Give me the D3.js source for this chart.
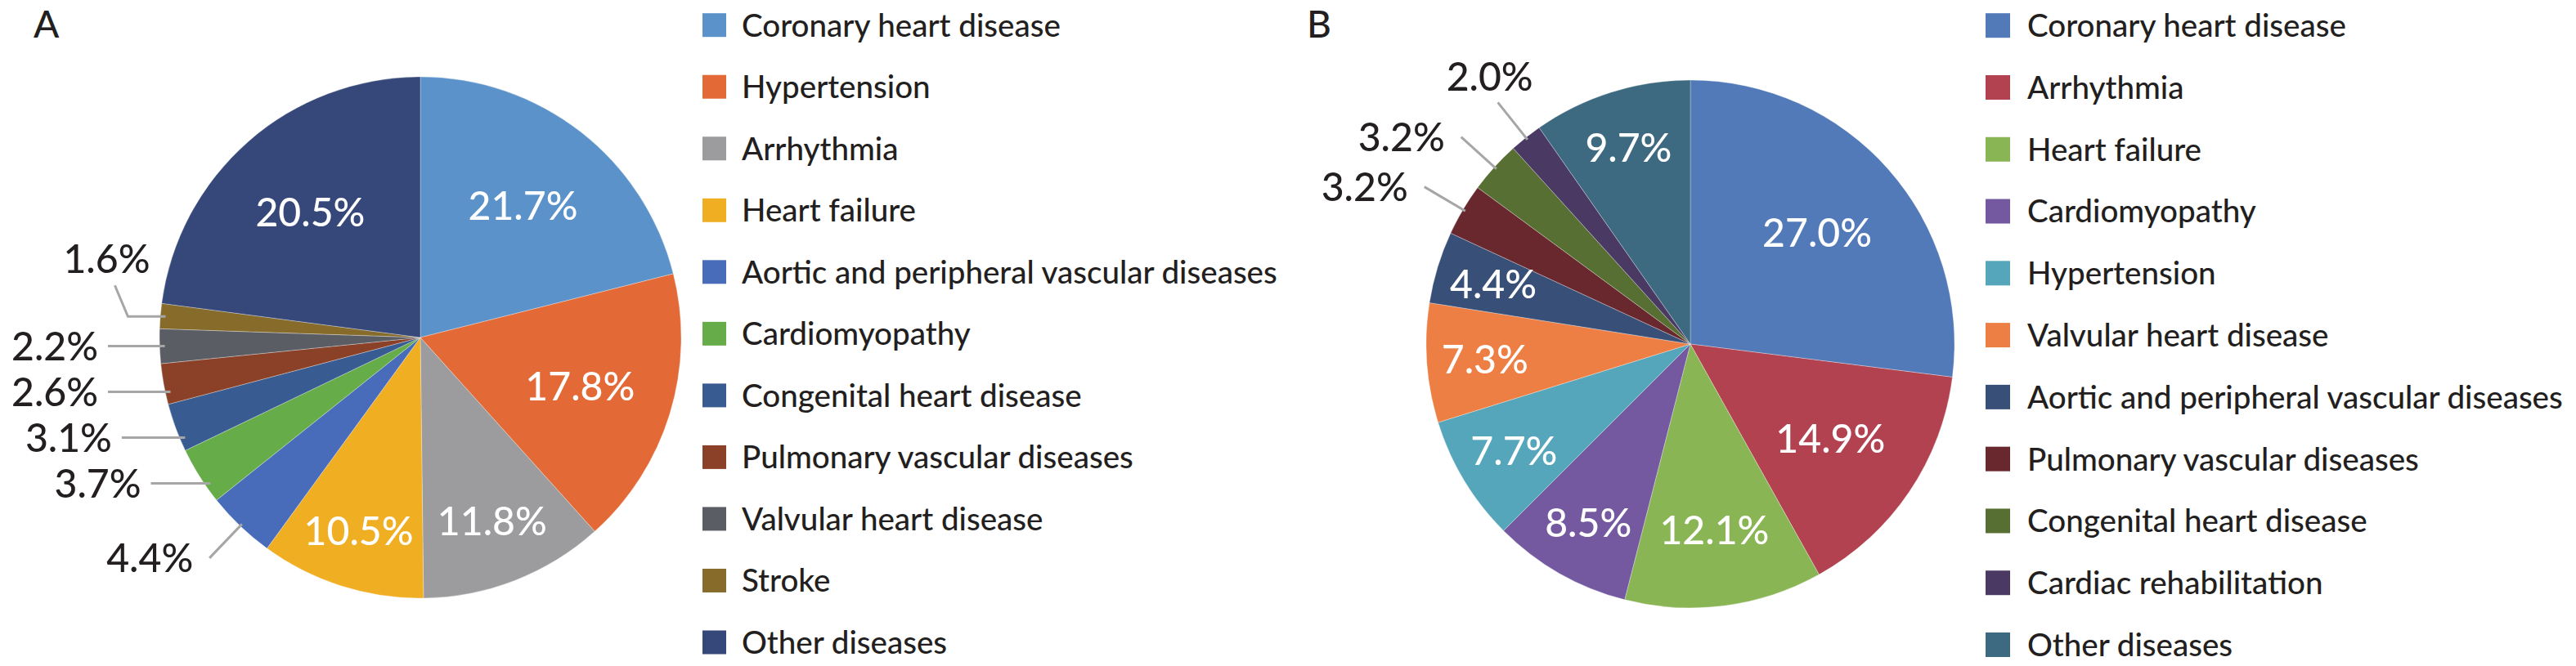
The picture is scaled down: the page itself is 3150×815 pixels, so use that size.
<!DOCTYPE html>
<html>
<head>
<meta charset="utf-8">
<script src="https://cdn.jsdelivr.net/npm/d3@7"></script>
<style>
  html, body { margin: 0; padding: 0; background: #fff; }
  svg { display: block; font-family: Lato, "Open Sans", sans-serif; font-weight: 500; }
</style>
</head>
<body>
<svg id="chart" width="3150" height="815"></svg>
<script>
// ---- panel A ----
var categoriesA = ["Coronary heart disease", "Hypertension", "Arrhythmia", "Heart failure",
  "Aortic and peripheral vascular diseases", "Cardiomyopathy", "Congenital heart disease",
  "Pulmonary vascular diseases", "Valvular heart disease", "Stroke", "Other diseases"];
// slice sizes as drawn; the "Other" wedge in the original is drawn larger than its 20.5% label
var valuesA = [21.7, 17.8, 11.8, 10.5, 4.4, 3.7, 3.1, 2.6, 2.2, 1.6, 23.6];
var labelsA = ["21.7%", "17.8%", "11.8%", "10.5%", "4.4%", "3.7%", "3.1%", "2.6%", "2.2%", "1.6%", "20.5%"];
var colorsA = ["#5b92ca", "#e36a36", "#9c9c9e", "#f0ae23", "#486cb9", "#66ac48",
  "#385b91", "#8b4128", "#5a5d64", "#866b2b", "#36487a"];

// ---- panel B ----
var categoriesB = ["Coronary heart disease", "Arrhythmia", "Heart failure", "Cardiomyopathy",
  "Hypertension", "Valvular heart disease", "Aortic and peripheral vascular diseases",
  "Pulmonary vascular diseases", "Congenital heart disease", "Cardiac rehabilitation", "Other diseases"];
var valuesB = [27.0, 14.9, 12.1, 8.5, 7.7, 7.3, 4.4, 3.2, 3.2, 2.0, 9.7];
var labelsB = ["27.0%", "14.9%", "12.1%", "8.5%", "7.7%", "7.3%", "4.4%", "3.2%", "3.2%", "2.0%", "9.7%"];
var colorsB = ["#5279b8", "#b2424f", "#8ab555", "#7459a1", "#56a6bb", "#ee7f44",
  "#384f78", "#69282e", "#576f33", "#4a3a63", "#3d6a80"];

var INK = "#231f20";
var LEADER = "#a6a6a6";
var GAP = 56;

var svg = d3.select("#chart");

function fitSize(str, target) {
  var t = svg.append("text").style("font-size", "100px").text(str);
  var w = t.node().getComputedTextLength();
  t.remove();
  return 100 * target / w;
}
var pctSize = fitSize("21.7%", 134);
var legendSize = fitSize("Aortic and peripheral vascular diseases", 655);

function drawPie(cfg) {
  var data = cfg.categories.map(function(c, i) {
    return { name: c, value: cfg.values[i], label: cfg.labels[i], color: cfg.colors[i] };
  });
  var arcs = d3.pie().sort(null).value(function(d) { return d.value; })(data);
  var r = cfg.r;
  var g = svg.append("g").attr("transform", "translate(" + cfg.cx + "," + cfg.cy + ")");

  g.selectAll("path.slice").data(arcs).join("path")
    .attr("class", "slice")
    .attr("d", d3.arc().innerRadius(0).outerRadius(r))
    .attr("fill", function(d) { return d.data.color; })
    .attr("stroke", "#fff").attr("stroke-width", 0.6).attr("stroke-opacity", 0.5);

  // labels inside the wedge
  var inner = arcs.filter(function(d) { return d.data.value >= cfg.insideMin; });
  g.selectAll("text.in").data(inner).join("text")
    .attr("class", "in")
    .attr("transform", function(d) {
      var span = d.endAngle - d.startAngle;
      var rho = Math.max(0.64 * r, Math.min(0.78 * r, 85 / Math.sin(span / 2)));
      var p = d3.arc().innerRadius(rho).outerRadius(rho).centroid(d);
      return "translate(" + p[0] + "," + p[1] + ")";
    })
    .attr("text-anchor", "middle").attr("dy", "0.36em")
    .attr("fill", "#fff").style("font-size", pctSize + "px")
    .text(function(d) { return d.data.label; });

  // labels outside with leader lines
  var tan40 = Math.tan(40 * Math.PI / 180);
  var outer = arcs.filter(function(d) { return d.data.value < cfg.insideMin; }).map(function(d) {
    var mid = (d.startAngle + d.endAngle) / 2;
    var anchor = d3.pointRadial(mid, r * 1.17);
    var mode = (anchor[1] < 0 && Math.abs(anchor[0]) < Math.abs(anchor[1])) ? "top"
      : (cfg.flat && Math.abs(anchor[1]) < Math.abs(anchor[0]) * tan40) ? "flat" : "radial";
    if (mode === "flat") anchor = d3.pointRadial(mid, r * 1.22);
    var ty = mode === "flat" ? d3.pointRadial(mid, r * 0.98)[1]
      : mode === "top" ? anchor[1] - 32 : anchor[1];
    return { d: d, mid: mid, anchor: anchor, mode: mode, ty: ty, ty0: ty, side: anchor[0] < 0 ? -1 : 1 };
  });

  [-1, 1].forEach(function(side) {
    var list = outer.filter(function(o) { return o.side === side && o.mode !== "top"; })
      .sort(function(a, b) { return a.ty - b.ty; });
    if (!list.length) return;
    var pivot = d3.minIndex(list, function(o) { return Math.abs(o.ty); });
    var i;
    for (i = pivot - 1; i >= 0; i--) if (list[i].ty > list[i + 1].ty - GAP) list[i].ty = list[i + 1].ty - GAP;
    for (i = pivot + 1; i < list.length; i++) if (list[i].ty < list[i - 1].ty + GAP) list[i].ty = list[i - 1].ty + GAP;
  });

  var texts = g.selectAll("text.out").data(outer).join("text")
    .attr("class", "out")
    .attr("fill", INK).style("font-size", pctSize + "px").attr("dy", "0.36em")
    .text(function(o) { return o.d.data.label; });

  texts.each(function(o) {
    var w = this.getComputedTextLength();
    var edge = d3.pointRadial(o.mid, r * 0.99);
    o.align = o.side < 0 ? "end" : "start";
    if (o.mode === "top") {
      o.align = "middle";
      o.tx = o.anchor[0] - 10;
      o.points = [edge, o.anchor];
    } else if (o.mode === "flat" && o.ty < o.ty0 - 1) {
      // squeezed out upwards: bent leader, label lifted above its end
      var e0 = d3.pointRadial(o.mid, r * 0.98);
      var bend = [e0[0] + 46 * o.side, e0[1]];
      var tip = [bend[0] + 16 * o.side, e0[1] - 38];
      o.points = [e0, bend, tip];
      o.align = "middle";
      o.tx = tip[0] + 10 * o.side;
      o.ty = tip[1] - 33;
    } else if (o.mode === "flat") {
      var x1 = o.anchor[0];
      var tx = x1 + 12 * o.side;
      var minRight = -cfg.cx + 14 + w;
      if (o.side < 0 && tx < minRight) { tx = minRight; x1 = tx + 12; }
      o.tx = tx;
      var rr = r * 0.98;
      var hx = o.side * Math.sqrt(Math.max(0, rr * rr - o.ty * o.ty));
      var ang = Math.atan2(hx, -o.ty);
      if (ang < 0) ang += 2 * Math.PI;
      if (ang >= o.d.startAngle && ang <= o.d.endAngle) {
        o.points = [[hx, o.ty], [x1, o.ty]];
      } else {
        var e = d3.pointRadial(o.mid, rr);
        o.points = [e, [e[0] + (x1 - e[0]) * 0.45, e[1]], [x1, o.ty]];
      }
    } else {
      o.tx = o.anchor[0] + 20 * o.side;
      o.points = [edge, [o.anchor[0], o.ty]];
    }
  });

  g.selectAll("path.leader").data(outer).join("path")
    .attr("class", "leader")
    .attr("d", function(o) { return d3.line()(o.points); })
    .attr("fill", "none").attr("stroke", LEADER).attr("stroke-width", 3);

  texts.attr("x", function(o) { return o.tx; })
    .attr("y", function(o) { return o.ty; })
    .attr("text-anchor", function(o) { return o.align; })
    .raise();
}

function drawLegend(cfg) {
  var y = d3.scalePoint().domain(cfg.categories).range([cfg.y0, cfg.y1]);
  var rows = svg.append("g").selectAll("g").data(cfg.categories).join("g")
    .attr("transform", function(d) { return "translate(" + cfg.x + "," + y(d) + ")"; });
  rows.append("rect")
    .attr("x", 0).attr("y", -cfg.box / 2).attr("width", cfg.box).attr("height", cfg.box)
    .attr("fill", function(d, i) { return cfg.colors[i]; });
  rows.append("text")
    .attr("x", cfg.textDx).attr("dy", "0.36em")
    .attr("fill", INK).style("font-size", legendSize + "px")
    .text(function(d) { return d; });
}

drawPie({ cx: 514, cy: 413, r: 319, categories: categoriesA, values: valuesA, labels: labelsA,
  colors: colorsA, insideMin: 5, flat: true });
drawPie({ cx: 2067, cy: 421, r: 323, categories: categoriesB, values: valuesB, labels: labelsB,
  colors: colorsB, insideMin: 4, flat: false });

drawLegend({ categories: categoriesA, colors: colorsA, x: 859, box: 29, textDx: 48, y0: 30.7, y1: 786 });
drawLegend({ categories: categoriesB, colors: colorsB, x: 2428, box: 30, textDx: 51, y0: 31.2, y1: 789 });

svg.append("text").attr("x", 41).attr("y", 46).attr("fill", INK).style("font-size", "46px").text("A");
svg.append("text").attr("x", 1598).attr("y", 46).attr("fill", INK).style("font-size", "46px").text("B");
</script>
</body>
</html>
